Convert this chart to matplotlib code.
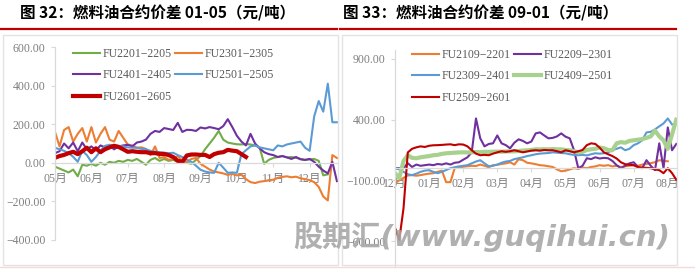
import numpy as np
import matplotlib.pyplot as plt
from matplotlib.lines import Line2D
from matplotlib.patches import Rectangle

plt.rcParams['font.family'] = ['Liberation Serif', 'Noto Sans CJK SC']

# ---------------- 图32: 01-05 spreads, x = months since May (step 1/8 month) ----------------
left_months = ['05月', '06月', '07月', '08月', '09月', '10月', '11月', '12月']
left_yticks = [-400, -200, 0, 200, 400, 600]

fu2201_2205 = [-20, -30, -40, -50, -35, -70, -10, -15, -5, -15, 0, -10, 5, 0, 10, 5,
               15, 10, 20, 5, -10, 15, 25, 10, 20, 10, 15, 5, 10, 0, -5, 15,
               35, 70, 100, 130, 165, 120, 105, 100, 96, 95, 97, 95, 90, 80, -5, 15,
               25, 30, 35, 28, 30, 26, 20, 15, 18, 20, 10, -65, -60]
fu2301_2305 = [160, 85, 170, 185, 110, 150, 180, 110, 185, 105, 150, 185, 120, 110, 165, 130,
               95, 90, 78, 80, 72, 40, 85, 25, 30, 15, 20, 35, 10, 5, 20, 25,
               -5, -20, -35, -45, -50, -55, -62, -58, -65, -62, -85, -100, -105, -98, -95, -90,
               -88, -78, -73, -70, -75, -72, -80, -85, -90, -100, -125, -175, -195, 40, 25]
fu2401_2405 = [50, 60, 100, 75, 105, 60, 105, 70, 85, 65, 90, 80, 88, 70, 85, 90,
               93, 85, 105, 110, 120, 150, 165, 160, 180, 175, 170, 207, 160, 171, 170, 165,
               183, 178, 185, 180, 174, 190, 226, 185, 140, 110, 90, 150, 100, 75, 55, 45,
               40, 30, 35, 28, 20, 30, 18, 15, 20, 5, -20, -40, -55, 5, -95]
fu2501_2505 = [78, 70, 62, 50, 31, 5, 62, 40, 5, 30, 62, 88, 93, 90, 88, 85,
               80, 78, 78, 72, 70, 62, 58, 55, 52, 50, 52, 40, 30, 16, 5, -15,
               -36, -45, -50, -52, 0, -25, -52, -50, -52, 45, 65, 85, 90, 80, 75, 70,
               65, 90, 85, 95, 100, 105, 110, 78, 62, 240, 320, 265, 410, 210, 210]
fu2601_2605 = [26, 35, 41, 50, 57, 45, 60, 78, 55, 75, 55, 70, 80, 88, 82, 70,
               57, 60, 57, 55, 55, 50, 50, 46, 46, 40, 30, 10, 5, 38, 43, 43,
               41, 41, 30, 45, 52, 55, 67, 63, 60, 45, 30]

# ---------------- 图33: 09-01 spreads, x = months since Dec (step 1/8 month) ----------------
right_months = ['12月', '01月', '02月', '03月', '04月', '05月', '06月', '07月', '08月']
right_yticks = [-600, -100, 400, 900]

fu2109_2201 = [-123, -100, -80, -60, -57, -62, -57, -50, -45, -41, -30, -20, -115, -115, 0, 5,
               12, 16, 20, 18, 30, 20, 8, 25, 28, 35, 40, 49, 30, 74, 66, 45,
               40, 33, 25, 22, 16, 10, -10, -25, -20, -10, 0, -5, 5, 0, 10, 15,
               25, 20, 25, 15, 20, 10, 16, 20, 25, 20, 30, 35, 41, 50, 66, 60, 57]
fu2209_2301 = [0, 0, 0, 41, 10, 30, 20, 25, 30, 25, 35, 30, 40, 30, 45, 49,
               70, 90, 131, 410, 246, 180, 200, 205, 270, 205, 190, 164, 210, 238, 225, 205,
               220, 287, 295, 270, 246, 250, 262, 287, 260, 246, 148, 0, 20, 82, 75, 90,
               80, 85, 82, 60, 25, 0, 20, 40, 49, 10, 0, 66, 20, -16, 205, 0, 336, 148, 200]
fu2309_2401 = [0, -10, -30, -50, -57, -45, -30, -20, -16, -30, -41, -30, -15, 0, 8, 15,
               20, 25, 40, 55, 66, 40, 16, 20, 30, 45, 55, 60, 75, 82, 90, 100,
               107, 115, 120, 123, 125, 131, 128, 125, 123, 115, 110, 107, 110, 105, 115, 123,
               120, 123, 130, 150, 160, 172, 148, 160, 190, 205, 230, 295, 300, 320, 345, 369,
               410, 361]
fu2409_2501 = [-41, -82, 60, 107, 85, 82, 90, 95, 100, 107, 110, 118, 123, 125, 128, 130,
               131, 130, 131, 133, 132, 135, 134, 136, 137, 136, 138, 139, 139, 142, 145, 148,
               150, 156, 155, 157, 156, 158, 155, 156, 150, 148, 140, 131, 135, 150, 156, 160,
               170, 165, 150, 148, 205, 215, 210, 225, 230, 235, 240, 250, 262, 310, 262, 230,
               160, 279, 400]
fu2509_2601 = [-490, -590, -330, 130, 160, 172, 180, 175, 185, 189, 190, 192, 195, 197, 190, 197,
               195, 180, 148, 120, 107, 110, 107, 120, 131, 140, 135, 140, 148, 140, 131, 138,
               145, 148, 145, 150, 148, 148, 140, 131, 148, 140, 131, 140, 150, 190, 205, 200,
               170, 131, 115, 100, 80, 49, 33, 28, 25, 8, 5, 3, 0, -10, -16, -41, 0, -41, -95]

GREEN, ORANGE, PURPLE, BLUE, RED, LGREEN = '#70AD47', '#ED7D31', '#7030A0', '#5B9BD5', '#C00000', '#A9D18E'


def xs(vals, step=0.125):
    return np.arange(len(vals)) * step


def style_axes(ax, yticks, months, ylim, xlim):
    ax.set_ylim(*ylim)
    ax.set_xlim(*xlim)
    ax.set_yticks(yticks)
    ax.set_yticklabels([f'{v:.2f}'.replace('-', '−') for v in yticks])
    ax.set_xticks(range(len(months)))
    ax.set_xticklabels(months)
    for s in ['top', 'right']:
        ax.spines[s].set_visible(False)
    ax.spines['bottom'].set_position(('data', 0))
    for s in ['left', 'bottom']:
        ax.spines[s].set_color('#d9d9d9')
        ax.spines[s].set_linewidth(0.9)
    ax.tick_params(colors='#d9d9d9', labelcolor='#7f7f7f', labelsize=8.5,
                   length=3, width=0.8, pad=4)
    ax.patch.set_alpha(0)


def add_legend(ax, fig, handles, labels, anchor):
    leg = ax.legend(handles, labels, ncol=2, loc='upper left', bbox_to_anchor=anchor,
                    bbox_transform=fig.transFigure, frameon=False, fontsize=8.5,
                    handlelength=2.3, handletextpad=0.2, columnspacing=0.3,
                    labelspacing=0.8, borderpad=0, borderaxespad=0)
    for t in leg.get_texts():
        t.set_color('#595959')


W, H = 695, 269
fig = plt.figure(figsize=(W / 100, H / 100), dpi=100)

# frames, rules and titles
for x0, x1 in [(3, 338), (342, 677)]:
    fig.patches.append(Rectangle((x0 / W, 4 / H), (x1 - x0) / W, 230 / H, transform=fig.transFigure,
                                 fill=False, edgecolor='#e3e3e3', linewidth=1))
for x0, x1 in [(0, 337), (340, 676)]:
    fig.lines.append(Line2D([x0 / W, x1 / W], [1 - 29 / H] * 2, transform=fig.transFigure,
                            color=RED, linewidth=1.6))
fig.lines.append(Line2D([0, 1], [1 - 267 / H] * 2, transform=fig.transFigure,
                        color='#f2dcdb', linewidth=1))
title_font = ['Noto Sans CJK SC']
fig.text(20 / W, 1 - 13 / H, '图 32：燃料油合约价差 01-05（元/吨）', ha='left', va='center',
         fontsize=11.2, fontweight='bold', family=title_font)
fig.text(343 / W, 1 - 13 / H, '图 33：燃料油合约价差 09-01（元/吨）', ha='left', va='center',
         fontsize=11.2, fontweight='bold', family=title_font)

# ---- left chart ----
ax1 = fig.add_axes([55 / W, 29 / H, 283 / W, 193 / H])
h1 = ax1.plot(xs(fu2201_2205), fu2201_2205, color=GREEN, lw=1.5)[0]
h2 = ax1.plot(xs(fu2301_2305), fu2301_2305, color=ORANGE, lw=1.5)[0]
h3 = ax1.plot(xs(fu2401_2405), fu2401_2405, color=PURPLE, lw=1.5)[0]
h4 = ax1.plot(xs(fu2501_2505), fu2501_2505, color=BLUE, lw=1.5)[0]
h5 = ax1.plot(xs(fu2601_2605), fu2601_2605, color=RED, lw=3)[0]
style_axes(ax1, left_yticks, left_months, (-400, 600), (0, 7.78))
add_legend(ax1, fig, [h1, h3, h5, h2, h4],
           ['FU2201−2205', 'FU2401−2405', 'FU2601−2605', 'FU2301−2305', 'FU2501−2505'],
           (73 / W, 1 - 48 / H))

# ---- right chart ----
ax2 = fig.add_axes([395 / W, 2.5 / H, 282 / W, 216 / H])
g1 = ax2.plot(xs(fu2109_2201), fu2109_2201, color=ORANGE, lw=1.5)[0]
g2 = ax2.plot(xs(fu2209_2301), fu2209_2301, color=PURPLE, lw=1.5)[0]
g3 = ax2.plot(xs(fu2309_2401), fu2309_2401, color=BLUE, lw=1.5)[0]
g4 = ax2.plot(xs(fu2409_2501), fu2409_2501, color=LGREEN, lw=3)[0]
g5 = ax2.plot(xs(fu2509_2601), fu2509_2601, color=RED, lw=1.5)[0]
style_axes(ax2, right_yticks, right_months, (-810, 970), (0, 8.27))
add_legend(ax2, fig, [g1, g3, g5, g2, g4],
           ['FU2109−2201', 'FU2309−2401', 'FU2509−2601', 'FU2209−2301', 'FU2409−2501'],
           (412 / W, 1 - 49 / H))

# watermark
fig.text(293 / W, 1 - 237 / H, '股期汇(www.guqihui.cn)', ha='left', va='center', fontsize=21,
         fontweight='bold', fontstyle='italic', color='#a8a8a8', alpha=0.9,
         family=['DejaVu Sans', 'Noto Sans CJK SC'], zorder=10)

fig.savefig('out.png', dpi=100)
